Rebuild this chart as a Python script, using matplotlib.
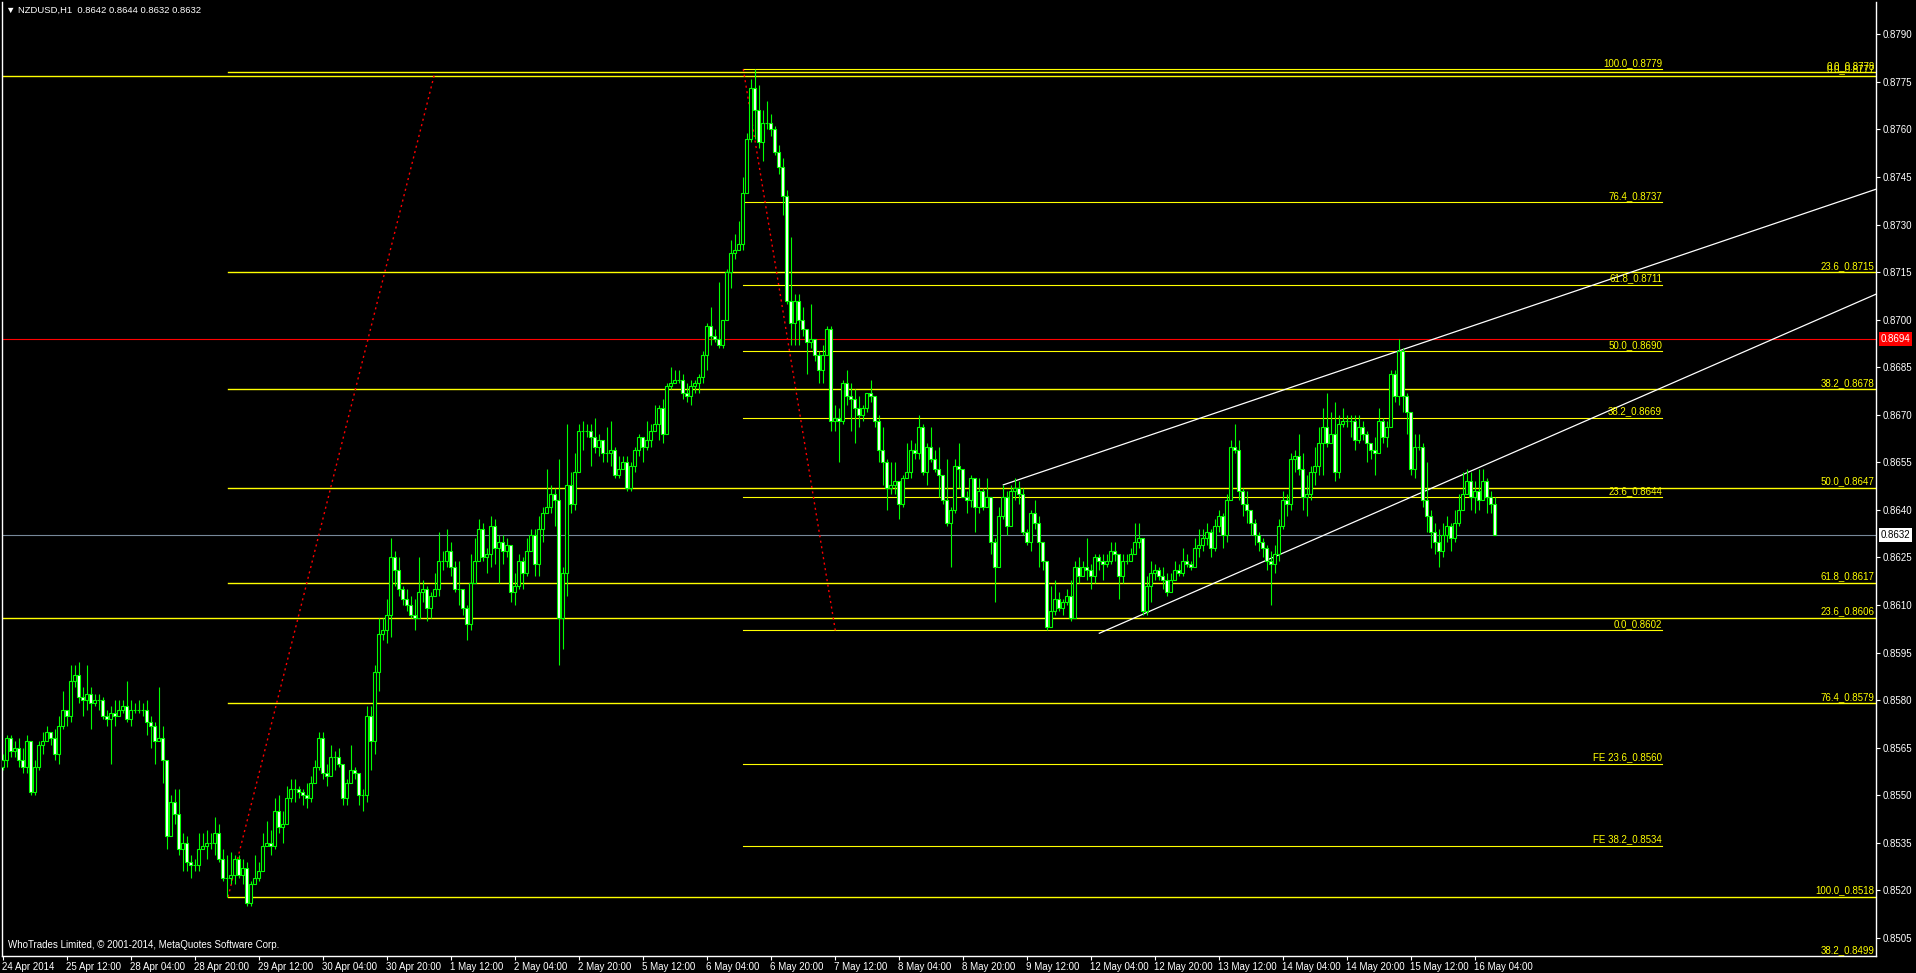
import numpy as np
import matplotlib
matplotlib.use("Agg")
import matplotlib.pyplot as plt
import matplotlib.transforms as mtrans

plt.rcParams['font.family'] = ['Liberation Sans', 'DejaVu Sans']

# hourly NZDUSD candles, values in pips above 0.8500
close_pips = [
    61, 68, 64, 65, 61, 59, 67, 51, 59, 66, 67, 70, 68, 63, 72, 77, 75, 86, 88, 81,
    80, 82, 79, 80, 80, 75, 74, 76, 75, 77, 78, 74, 77, 77, 77, 77, 73, 72, 67, 68,
    61, 37, 48, 44, 33, 35, 29, 28, 28, 33, 34, 35, 35, 38, 30, 24, 24, 25, 30, 25,
    27, 16, 22, 24, 26, 34, 35, 34, 45, 40, 41, 49, 52, 52, 51,
    50, 49, 54, 59, 68, 57, 56, 62, 62, 60, 49, 54, 58, 57, 50, 50, 75, 67, 89, 101,
    102, 107, 125, 121, 115, 112, 110, 107, 106, 114, 115, 109, 113, 115, 124, 124, 127, 122, 115, 115,
    109, 104, 117, 124, 134, 125, 126, 135, 128, 130, 127, 129, 114, 116, 124, 120, 127, 132, 123, 134,
    139, 141, 145, 143, 106, 120, 148, 142, 152, 165, 165, 165, 163, 160, 162,
    158, 158, 159, 151, 153, 155, 147, 154, 159, 163, 160, 162, 165, 167, 172, 164, 179, 180, 181, 181,
    177, 176, 179, 180, 182, 189, 198, 195, 194, 192, 200, 215, 221, 222, 224, 240, 257, 273, 266, 256,
    262, 262, 260, 253, 248, 239, 206, 199, 206, 200, 197, 193, 194, 189, 184, 189, 197, 168, 169, 168,
    180, 176, 175, 172, 170, 172, 177, 176, 168, 159, 155, 147, 148, 149, 142,
    150, 152, 159, 158, 166, 152, 160, 156, 153, 151, 143, 136, 140, 154, 153, 144, 143, 150, 141, 146,
    141, 144, 130, 122, 138, 144, 135, 146, 147, 145, 133, 130, 139, 136, 130, 124, 103, 108, 112, 109,
    111, 113, 106, 122, 119, 122, 121, 119, 125, 124, 123, 124, 127, 126, 119, 124, 124, 126, 130, 131,
    108, 116, 120, 121, 119, 118, 114, 118, 121, 120, 124, 123, 122, 128, 129,
    131, 133, 128, 135, 138, 132, 143, 160, 159, 146, 142, 140, 136, 132, 130, 128, 124, 123, 126, 135,
    143, 142, 156, 157, 153, 144, 145, 152, 154, 161, 166, 161, 164, 152, 167, 168, 168, 168, 162, 166,
    164, 161, 159, 158, 168, 163, 166, 183, 176, 190, 176, 171, 153, 160, 160, 143, 138, 133, 130, 127,
    132, 135, 131, 136, 140, 145, 149, 144, 146, 143, 149, 144, 142, 132,
]
high_pips = [
    63, 69, 69, 67, 68, 65, 69, 67, 61, 67, 70, 72, 70, 71, 75, 83, 77, 91, 91, 92,
    84, 91, 84, 82, 82, 81, 77, 78, 80, 80, 80, 86, 80, 79, 80, 79, 80, 75, 73, 84,
    72, 61, 50, 52, 52, 38, 37, 31, 30, 38, 38, 39, 38, 43, 41, 33, 31, 32, 31, 31,
    30, 29, 23, 31, 29, 38, 42, 39, 49, 50, 45, 53, 55, 55, 53,
    52, 54, 56, 61, 70, 70, 60, 66, 64, 65, 60, 55, 66, 59, 56, 52, 78, 78, 91, 106,
    106, 112, 131, 127, 125, 116, 115, 113, 112, 125, 118, 116, 114, 120, 133, 127, 134, 130, 124, 124,
    115, 110, 126, 131, 137, 136, 128, 138, 137, 132, 132, 131, 128, 120, 126, 125, 131, 134, 134, 138,
    141, 153, 148, 147, 156, 122, 167, 152, 158, 167, 168, 167, 167, 169, 164,
    161, 166, 168, 160, 157, 157, 157, 155, 160, 164, 163, 168, 167, 173, 173, 175, 180, 185, 184, 184,
    183, 180, 181, 181, 183, 190, 199, 204, 197, 212, 200, 216, 225, 227, 231, 245, 259, 276, 279, 274,
    266, 269, 265, 261, 255, 251, 241, 226, 208, 208, 204, 197, 205, 194, 190, 192, 198, 198, 173, 172,
    181, 184, 180, 178, 176, 173, 177, 181, 175, 170, 166, 156, 155, 155, 149,
    151, 161, 162, 161, 170, 167, 161, 166, 159, 160, 150, 156, 141, 156, 161, 152, 146, 151, 150, 150,
    147, 150, 143, 131, 141, 148, 146, 148, 150, 149, 147, 134, 140, 143, 138, 129, 123, 116, 118, 114,
    112, 115, 118, 124, 125, 124, 131, 123, 126, 126, 126, 126, 130, 130, 125, 126, 126, 128, 136, 136,
    130, 119, 124, 123, 122, 122, 120, 120, 124, 123, 128, 126, 124, 131, 134,
    134, 136, 134, 137, 140, 139, 145, 162, 167, 162, 147, 146, 140, 137, 133, 131, 129, 127, 129, 137,
    146, 145, 158, 159, 164, 158, 151, 154, 160, 166, 172, 177, 171, 174, 170, 172, 170, 170, 170, 170,
    168, 165, 161, 163, 172, 169, 168, 184, 184, 194, 191, 177, 170, 164, 164, 161, 155, 140, 136, 134,
    136, 138, 136, 140, 145, 152, 153, 152, 149, 153, 153, 150, 146, 144,
]
low_pips = [
    58, 59, 62, 62, 59, 57, 57, 50, 50, 58, 63, 67, 66, 61, 60, 71, 72, 73, 84, 79,
    75, 77, 71, 78, 77, 74, 72, 60, 72, 75, 76, 73, 72, 76, 76, 75, 69, 65, 60, 67,
    54, 33, 37, 41, 31, 26, 26, 24, 26, 26, 33, 30, 33, 31, 29, 23, 18, 22, 22, 24,
    22, 15, 15, 23, 23, 26, 34, 31, 33, 38, 35, 41, 48, 48, 49,
    47, 46, 48, 54, 58, 55, 53, 56, 58, 59, 47, 47, 54, 55, 47, 45, 48, 58, 63, 83,
    99, 98, 100, 116, 113, 110, 108, 106, 102, 107, 111, 105, 106, 113, 113, 121, 122, 119, 114, 110,
    107, 99, 102, 118, 124, 124, 120, 122, 123, 117, 123, 125, 111, 110, 115, 115, 119, 127, 119, 119,
    130, 139, 139, 135, 91, 96, 113, 139, 140, 152, 159, 163, 154, 158, 157,
    155, 155, 154, 150, 150, 153, 146, 146, 152, 157, 155, 159, 160, 165, 162, 161, 168, 178, 180, 180,
    175, 174, 173, 177, 177, 180, 184, 192, 193, 191, 191, 200, 210, 219, 222, 222, 240, 256, 257, 254,
    250, 260, 258, 252, 246, 233, 205, 192, 192, 192, 195, 183, 191, 187, 180, 180, 189, 165, 165, 155,
    167, 173, 165, 161, 166, 168, 171, 174, 166, 155, 148, 140, 145, 145, 137,
    141, 150, 150, 156, 156, 151, 148, 155, 152, 144, 142, 135, 122, 139, 147, 144, 139, 141, 133, 139,
    140, 143, 126, 111, 122, 137, 132, 135, 143, 142, 132, 129, 127, 134, 122, 121, 102, 103, 107, 108,
    107, 110, 105, 107, 117, 120, 118, 115, 117, 121, 118, 122, 123, 124, 112, 117, 123, 124, 126, 128,
    107, 107, 111, 118, 118, 115, 113, 116, 118, 119, 119, 122, 121, 123, 125,
    127, 129, 125, 127, 133, 128, 130, 143, 158, 143, 138, 136, 132, 129, 127, 125, 121, 110, 120, 124,
    134, 138, 140, 152, 151, 140, 138, 143, 148, 151, 151, 160, 161, 149, 150, 166, 166, 163, 159, 161,
    162, 155, 156, 151, 161, 161, 160, 168, 174, 173, 171, 164, 151, 150, 159, 141, 133, 128, 126, 122,
    125, 130, 127, 130, 135, 141, 145, 140, 139, 140, 145, 139, 139, 132,
]
first_open_pips = 59

date_labels = [
    "24 Apr 2014", "25 Apr 12:00", "28 Apr 04:00", "28 Apr 20:00", "29 Apr 12:00",
    "30 Apr 04:00", "30 Apr 20:00", "1 May 12:00", "2 May 04:00", "2 May 20:00",
    "5 May 12:00", "6 May 04:00", "6 May 20:00", "7 May 12:00", "8 May 04:00",
    "8 May 20:00", "9 May 12:00", "12 May 04:00", "12 May 20:00", "13 May 12:00",
    "14 May 04:00", "14 May 20:00", "15 May 12:00", "16 May 04:00",
]
bars_per_label = 16

# fibonacci objects: (level text, price)
fib_low_high = [("0.0", 0.8778), ("23.6", 0.8715), ("38.2", 0.8678), ("50.0", 0.8647),
                ("61.8", 0.8617), ("76.4", 0.8579), ("100.0", 0.8518)]
fib_low_high_start = 56.4
fib_long = [("0.0", 0.8777), ("23.6", 0.8606), ("38.2", 0.8499)]
fib_peak = [("100.0", 0.8779), ("76.4", 0.8737), ("61.8", 0.8711), ("50.0", 0.8690),
            ("38.2", 0.8669), ("23.6", 0.8644), ("0.0", 0.8602),
            ("FE 23.6", 0.8560), ("FE 38.2", 0.8534)]
fib_peak_span = (185.2, 414.9)

# anchor points (bar, price)
fib_trend_1 = [(56.4, 0.8518), (107.9, 0.8777)]
fib_trend_2 = [(185.2, 0.8779), (208.2, 0.8602)]
channel_upper = [(250.2, 0.86479), (349.4, 0.86903)]
channel_lower = [(274.2, 0.86011), (351.0, 0.86434)]

hline_red = 0.8694
bid_price = 0.8632
header = "\u25bc NZDUSD,H1  0.8642 0.8644 0.8632 0.8632"
copyright_txt = "WhoTrades Limited, \u00a9 2001-2014, MetaQuotes Software Corp."

# ---- build OHLC ----
closes = 0.85 + np.array(close_pips) / 10000.0
opens = np.concatenate([[0.85 + first_open_pips / 10000.0], closes[:-1]])
highs = np.maximum(0.85 + np.array(high_pips) / 10000.0, np.maximum(opens, closes))
lows = np.minimum(0.85 + np.array(low_pips) / 10000.0, np.minimum(opens, closes))
x = np.arange(len(closes))

fig = plt.figure(figsize=(19.16, 9.73), dpi=100, facecolor="black")
ax = fig.add_axes([2 / 1916, 17 / 973, 1874 / 1916, 954 / 973])
ax.set_facecolor("black")
xmin, xmax = -0.125, 468.375
ax.set_xlim(xmin, xmax)
ax.set_ylim(0.84993, 0.88002)

lime = "#00FF00"
yellow = "#FFFF00"

# full-width horizontal lines
ax.axhline(hline_red, color="#FF0000", lw=0.8, zorder=1)
ax.axhline(bid_price, color="#778899", lw=0.8, zorder=1)

# fib lines
for lvl, p in fib_low_high:
    ax.plot([fib_low_high_start, xmax], [p, p], color=yellow, lw=1.0, zorder=2)
    ax.annotate(f"{lvl}_{p:.4f}", xy=(1, p), xycoords=("axes fraction", "data"),
                xytext=(-1, 1), textcoords="offset points", ha="right", va="bottom",
                fontsize=7, color=yellow, zorder=5)
for lvl, p in fib_long:
    ax.plot([xmin, xmax], [p, p], color=yellow, lw=1.0, zorder=2)
    ax.annotate(f"{lvl}_{p:.4f}", xy=(1, p), xycoords=("axes fraction", "data"),
                xytext=(-1, 1), textcoords="offset points", ha="right", va="bottom",
                fontsize=7, color=yellow, zorder=5)
for lvl, p in fib_peak:
    ax.plot(list(fib_peak_span), [p, p], color=yellow, lw=0.8, zorder=2)
    ax.annotate(f"{lvl}_{p:.4f}", xy=(fib_peak_span[1], p), xytext=(0, 1),
                textcoords="offset points", ha="right", va="bottom",
                fontsize=7, color=yellow, zorder=5)

# dotted fib trend lines
for pts in (fib_trend_1, fib_trend_2):
    ax.plot([pts[0][0], pts[1][0]], [pts[0][1], pts[1][1]], color="#FF0000",
            lw=1.0, ls=(0, (1.5, 2.5)), zorder=3)

# channel rays
for pts in (channel_upper, channel_lower):
    (x0, y0), (x1, y1) = pts
    slope = (y1 - y0) / (x1 - x0)
    ax.plot([x0, xmax], [y0, y0 + slope * (xmax - x0)], color="white", lw=0.9, zorder=3)

# candles
ax.vlines(x, lows, highs, color=lime, lw=0.8, zorder=4)
bull = closes >= opens
face = np.where(bull, "black", "white")
bottoms = np.minimum(opens, closes)
heights = np.abs(closes - opens)
ax.bar(x, heights, width=0.55, bottom=bottoms, color=face, edgecolor=lime,
       linewidth=0.8, zorder=4.5)

# axes styling
for side in ("left", "right", "bottom"):
    ax.spines[side].set_color("white")
    ax.spines[side].set_linewidth(1.0)
ax.spines["top"].set_visible(False)

ax.yaxis.tick_right()
yt = np.round(np.arange(0.8505, 0.87901, 0.0015), 4)
ax.set_yticks(yt)
ax.set_yticklabels([f"{v:.4f}" for v in yt])
ax.tick_params(axis="y", colors="white", labelsize=7, length=3, width=0.8, pad=2)

xt = np.arange(len(date_labels)) * bars_per_label
ax.set_xticks(xt)
ax.set_xticklabels(date_labels)
ax.tick_params(axis="x", colors="white", labelsize=7, length=3, width=0.8, pad=1.5)
for lbl in ax.get_xticklabels():
    lbl.set_horizontalalignment("left")

# price tags on the axis
tag_tr = mtrans.blended_transform_factory(ax.transAxes, ax.transData)
ax.text(1.0025, hline_red, f"{hline_red:.4f}", transform=tag_tr, fontsize=7, color="white",
        va="center", ha="left", clip_on=False,
        bbox=dict(boxstyle="square,pad=0.2", fc="#FF0000", ec="none"), zorder=6)
ax.text(1.0025, bid_price, f"{bid_price:.4f}", transform=tag_tr, fontsize=7, color="black",
        va="center", ha="left", clip_on=False,
        bbox=dict(boxstyle="square,pad=0.2", fc="white", ec="none"), zorder=6)

fig.text(6 / 1916, 1 - 10 / 973, header, color="white", fontsize=6.8, va="center", ha="left")
ax.text(0.003, 0.006, copyright_txt, transform=ax.transAxes, color="white", fontsize=7,
        va="bottom", ha="left")

fig.savefig("out.png", dpi=100, facecolor="black")
